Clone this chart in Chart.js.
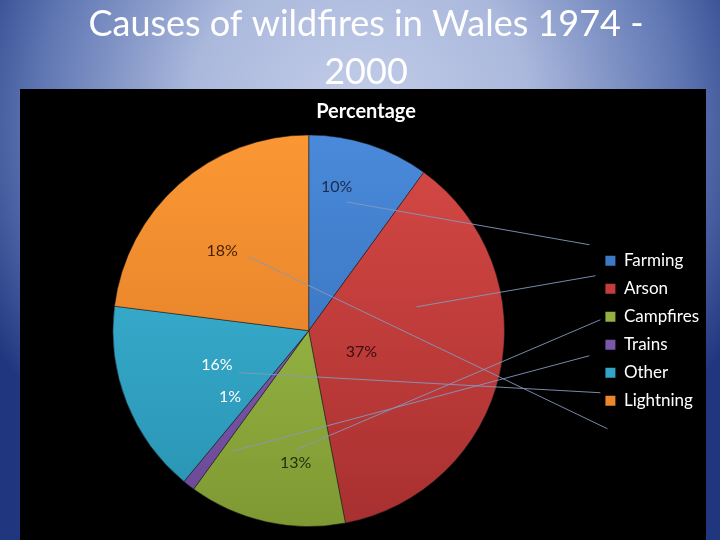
<!DOCTYPE html>
<html>
<head>
<meta charset="utf-8">
<script src="https://cdn.jsdelivr.net/npm/chart.js@4"></script>
<style>
html,body{margin:0;padding:0;background:#20367f;}
#wrap{width:720px;height:540px;position:relative;}
</style>
</head>
<body>
<div id="wrap"><canvas id="c" width="720" height="540"></canvas></div>
<script>
// ---- data ----
const slideTitle = ['Causes of wildfires in Wales 1974 -', '2000'];
const chartTitle = 'Percentage';
const categories = ['Farming', 'Arson', 'Campfires', 'Trains', 'Other', 'Lightning'];
const percentages = [10, 37, 13, 1, 16, 23];
const labelTexts = ['10%', '37%', '13%', '1%', '16%', '18%'];

// ---- styles ----
const topColors    = ['#4a8ada', '#d64945', '#a6c650', '#8a66b8', '#40b9da', '#fb9733'];
const bottomColors = ['#3068b0', '#a83030', '#7e9932', '#6a4896', '#2892b2', '#d87726'];
const legendColors = ['#3c7ac6', '#c23d3b', '#93b140', '#7a57a9', '#32a4c7', '#ea862b'];
const labelColors  = ['#1b2b4d', '#3d0c0c', '#1f300b', '#ffffff', '#ffffff', '#4a2104'];
// label placement: [fraction of radius, angle in degrees clockwise from 12 o'clock]
const labelPlacement = [[0.75, 11], [0.29, 112], [0.68, 185.6], [0.525, 230], [0.50, 249.7], [0.60, 312.6]];
// leader line start (polar, relative to pie) and end offsets (relative to legend marker)
const leaderStart = [[0.686, 16.4], [0.564, 77.5], [0.61, 185.8], [0.73, 212.5], [0.416, 239], [0.486, 321]];
const leaderEndOffset = [[-16, -16], [-10, -13], [-5, 3], [-16, 11], [-5, 20], [2, 28]];

const FONT = "Lato, 'Open Sans', 'DejaVu Sans', sans-serif";

const slideBackground = {
  id: 'slideBackground',
  beforeDraw(chart) {
    const ctx = chart.ctx;
    const w = chart.width, h = chart.height;
    ctx.save();
    const g = ctx.createRadialGradient(360, 120, 0, 360, 120, 430);
    g.addColorStop(0, '#c4cee9');
    g.addColorStop(0.4, '#aab8dc');
    g.addColorStop(0.75, '#5f76b3');
    g.addColorStop(1, '#20367f');
    ctx.fillStyle = g;
    ctx.fillRect(0, 0, w, h);
    ctx.fillStyle = '#000000';
    ctx.fillRect(20, 89, 686, h - 89);
    ctx.restore();
  }
};

function polar(arc, frac, deg) {
  const a = (deg - 90) * Math.PI / 180;
  return [arc.x + arc.outerRadius * frac * Math.cos(a), arc.y + arc.outerRadius * frac * Math.sin(a)];
}

const labelsAndLeaders = {
  id: 'labelsAndLeaders',
  afterDatasetsDraw(chart) {
    const ctx = chart.ctx;
    const meta = chart.getDatasetMeta(0);
    const boxes = chart.legend && chart.legend.legendHitBoxes ? chart.legend.legendHitBoxes : [];
    ctx.save();
    // leader lines
    ctx.strokeStyle = 'rgba(132,152,188,0.9)';
    ctx.lineWidth = 1;
    meta.data.forEach((arc, i) => {
      const hb = boxes[i];
      if (!hb) return;
      const p = arc.getProps(['x', 'y', 'outerRadius'], true);
      const s = polar(p, leaderStart[i][0], leaderStart[i][1]);
      const ex = hb.left + leaderEndOffset[i][0];
      const ey = hb.top + hb.height / 2 + leaderEndOffset[i][1];
      ctx.beginPath();
      ctx.moveTo(s[0], s[1]);
      ctx.lineTo(ex, ey);
      ctx.stroke();
    });
    // data labels
    ctx.font = '16px ' + FONT;
    ctx.textAlign = 'center';
    ctx.textBaseline = 'middle';
    meta.data.forEach((arc, i) => {
      const p = arc.getProps(['x', 'y', 'outerRadius'], true);
      const q = polar(p, labelPlacement[i][0], labelPlacement[i][1]);
      ctx.fillStyle = labelColors[i];
      ctx.fillText(labelTexts[i], q[0], q[1]);
    });
    ctx.restore();
  }
};

new Chart(document.getElementById('c'), {
  type: 'pie',
  data: {
    labels: categories,
    datasets: [{
      data: percentages,
      backgroundColor: (c) => {
        const chart = c.chart;
        const a = chart.chartArea;
        const i = c.dataIndex;
        if (!a || i === undefined) return legendColors[i || 0];
        const g = chart.ctx.createLinearGradient(0, a.top, 0, a.bottom);
        g.addColorStop(0, topColors[i]);
        g.addColorStop(1, bottomColors[i]);
        return g;
      },
      borderColor: 'rgba(30,30,30,0.55)',
      borderWidth: 1
    }]
  },
  options: {
    responsive: false,
    animation: false,
    rotation: 0,
    layout: { padding: { left: 23, right: 11, top: 0, bottom: 13 } },
    plugins: {
      title: {
        display: true,
        text: slideTitle,
        color: '#ffffff',
        font: { family: FONT, size: 36, weight: 'normal', lineHeight: 1.34 },
        padding: { top: 0, bottom: 0 }
      },
      subtitle: {
        display: true,
        text: chartTitle,
        color: '#ffffff',
        font: { family: FONT, size: 20, weight: 'bold', lineHeight: 1.2 },
        padding: { top: 3, bottom: 11 }
      },
      legend: {
        display: true,
        position: 'right',
        align: 'center',
        fullSize: false,
        labels: {
          color: '#ffffff',
          boxWidth: 10,
          boxHeight: 10,
          padding: 11,
          font: { family: FONT, size: 17 },
          generateLabels(chart) {
            const items = Chart.overrides.pie.plugins.legend.labels.generateLabels(chart);
            items.forEach((it, i) => {
              it.fillStyle = legendColors[i];
              it.strokeStyle = legendColors[i];
              it.lineWidth = 0;
            });
            return items;
          }
        }
      },
      tooltip: { enabled: false }
    }
  },
  plugins: [slideBackground, labelsAndLeaders]
});
</script>
</body>
</html>
